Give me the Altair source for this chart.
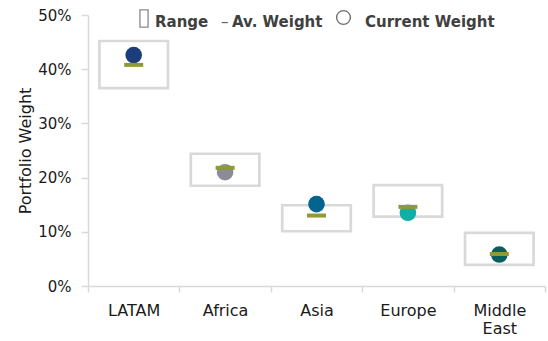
import altair as alt
import pandas as pd

regions = ["LATAM", "Africa", "Asia", "Europe", "Middle East"]
range_low = [0.365, 0.185, 0.101, 0.128, 0.039]
range_high = [0.452, 0.244, 0.149, 0.186, 0.098]
av_weight = [0.408, 0.218, 0.130, 0.146, 0.059]
current_weight = [0.426, 0.210, 0.151, 0.135, 0.058]
point_colors = ["#1b3d7a", "#8c8c99", "#05648f", "#12ada3", "#0a5e5e"]

legend_labels = ["Range", "–", "Av. Weight", "Current Weight"]

df = pd.DataFrame({
    "region": regions,
    "low": range_low,
    "high": range_high,
    "av": av_weight,
    "cur": current_weight,
})

FONT = "DejaVu Sans"

x_enc = alt.X(
    "region:N",
    sort=regions,
    scale=alt.Scale(paddingInner=0, paddingOuter=0),
    axis=alt.Axis(
        title=None,
        labelAngle=0,
        tickBand="extent",
        labelExpr="datum.value == 'Middle East' ? ['Middle', 'East'] : datum.value",
        labelFont=FONT, labelFontSize=16, labelColor="#1a1a1a",
        labelPadding=10, labelLineHeight=18,
        domainColor="#d9d9d9", tickColor="#d9d9d9", tickSize=6,
        domainWidth=1.5, tickWidth=1.5,
    ),
)

y_scale = alt.Scale(domain=[0, 0.5], nice=False)
y_axis = alt.Axis(
    title="Portfolio Weight",
    format=".0%",
    values=[0, 0.1, 0.2, 0.3, 0.4, 0.5],
    grid=False,
    labelFont=FONT, labelFontSize=15, labelColor="#1a1a1a",
    labelPadding=10, tickSize=7,
    domainColor="#d9d9d9", tickColor="#d9d9d9",
    domainWidth=1.5, tickWidth=1.5,
    titleFont=FONT, titleFontSize=16, titleFontWeight="normal",
    titleColor="#1a1a1a", titlePadding=4,
)

boxes = alt.Chart(df).mark_bar(
    fill="white", stroke="#d9d9d9", strokeWidth=2.7,
    width=alt.RelativeBandSize(0.75),
).encode(
    x=x_enc,
    y=alt.Y("low:Q", scale=y_scale, axis=y_axis),
    y2="high:Q",
)

points = alt.Chart(df).mark_circle(size=275, opacity=1).encode(
    x=alt.X("region:N", sort=regions),
    y=alt.Y("cur:Q"),
    color=alt.Color("region:N", scale=alt.Scale(domain=regions, range=point_colors), legend=None),
)

ticks = alt.Chart(df).mark_tick(color="#8f9a32", thickness=4, size=19, opacity=1).encode(
    x=alt.X("region:N", sort=regions),
    y=alt.Y("av:Q"),
)

one = pd.DataFrame({"k": [0]})

def legend_text(label, xpos, weight="bold", size=15, color="#404040"):
    return alt.Chart(one).mark_text(
        text=label, align="left", baseline="alphabetic",
        font=FONT, fontSize=size, fontWeight=weight, color=color,
    ).encode(x=alt.value(xpos), y=alt.value(11.5))

range_symbol = alt.Chart(one).mark_point(
    shape="M-0.47,-1H0.47V1H-0.47Z", filled=False, stroke="#8a8a8a",
    strokeWidth=1.3, size=300, opacity=1,
).encode(x=alt.value(56), y=alt.value(3.5))

current_symbol = alt.Chart(one).mark_point(
    shape="circle", filled=False, stroke="#707070",
    strokeWidth=1.4, size=190, opacity=1,
).encode(x=alt.value(255.5), y=alt.value(2.5))

legend = (
    range_symbol
    + legend_text(legend_labels[0], 67)
    + legend_text(legend_labels[1], 133, weight="normal", color="#606060")
    + legend_text(legend_labels[2], 144)
    + current_symbol
    + legend_text(legend_labels[3], 277)
)

chart = alt.layer(boxes, points, ticks, legend).properties(
    width=457, height=271,
    autosize=alt.AutoSizeParams(type="none"),
    padding={"left": 88, "top": 15, "right": 3, "bottom": 55},
).configure_view(stroke=None)

chart.save("out.html", embed_options={"renderer": "svg", "actions": False})
